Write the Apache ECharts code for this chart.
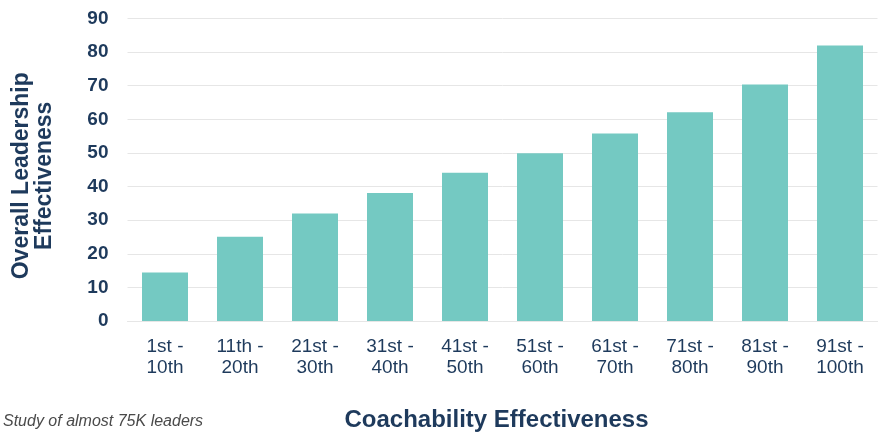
<!DOCTYPE html>
<html>
<head>
<meta charset="utf-8">
<script src="https://cdn.jsdelivr.net/npm/echarts@6/dist/echarts.min.js"></script>
<style>html,body{margin:0;padding:0;background:#fff}#c{width:882px;height:432px}</style>
</head>
<body>
<div id="c"></div>
<script>
var categories = ["1st -\n10th","11th -\n20th","21st -\n30th","31st -\n40th","41st -\n50th","51st -\n60th","61st -\n70th","71st -\n80th","81st -\n90th","91st -\n100th"];
var values = [14.4, 25.1, 32.0, 38.1, 44.1, 49.9, 55.8, 62.1, 70.4, 82.0];
var xAxisTitle = "Coachability Effectiveness";
var yAxisTitle = "Overall Leadership\nEffectiveness";
var footnote = "Study of almost 75K leaders";

var navy = "#1e3a5c";
var chart = echarts.init(document.getElementById('c'));
chart.setOption({
  backgroundColor: '#ffffff',
  animation: false,
  title: {
    text: footnote,
    left: 3, top: 414,
    padding: 0,
    textStyle: {fontFamily: 'Liberation Sans', fontSize: 16, fontStyle: 'italic', fontWeight: 'normal', color: '#4a4a4a'}
  },
  grid: {left: 127.5, right: 4.5, top: 18.5, bottom: 111, outerBoundsMode: 'none', containLabel: false},
  xAxis: {
    type: 'category',
    data: categories,
    name: xAxisTitle,
    nameLocation: 'middle',
    nameGap: 87,
    nameTextStyle: {fontFamily: 'Liberation Sans', fontSize: 24, fontWeight: 'bold', color: navy, padding: [0, 12, 0, 0]},
    axisLine: {show: true, lineStyle: {color: '#e6e6e6'}},
    axisTick: {show: false},
    axisLabel: {fontFamily: 'Liberation Sans', fontSize: 19, color: navy, lineHeight: 21, margin: 15}
  },
  yAxis: {
    type: 'value',
    min: 0, max: 90, interval: 10,
    name: yAxisTitle,
    nameLocation: 'middle',
    nameRotate: 90,
    nameGap: 71,
    nameTextStyle: {fontFamily: 'Liberation Sans', fontSize: 23, fontWeight: 'bold', color: navy, lineHeight: 23, padding: [0, 12, 0, 0]},
    axisLine: {show: false},
    axisTick: {show: false},
    splitLine: {lineStyle: {color: '#e6e6e6', width: 1}},
    axisLabel: {fontFamily: 'Liberation Sans', fontSize: 19, fontWeight: 'bold', color: navy, margin: 19}
  },
  series: [{
    type: 'bar',
    data: values,
    barWidth: 46,
    itemStyle: {color: '#74c9c2'}
  }]
});
</script>
</body>
</html>
